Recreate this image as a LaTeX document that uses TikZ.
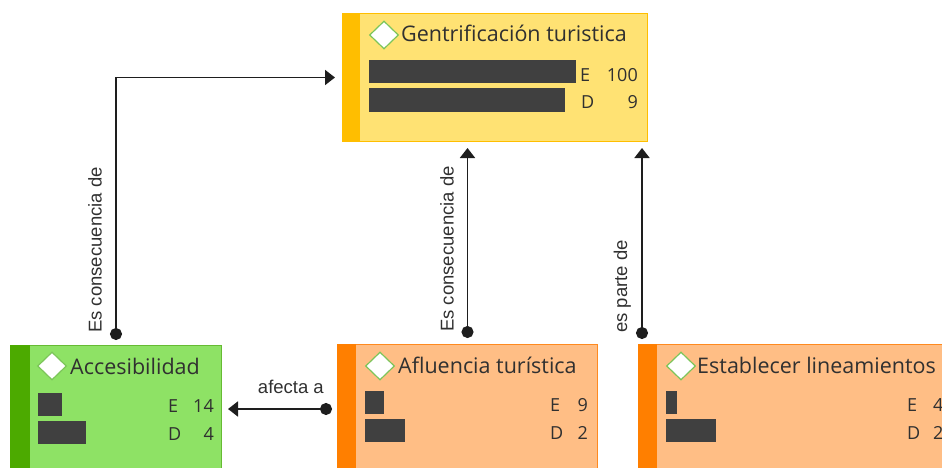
\documentclass[tikz,border=0pt]{standalone}
\usepackage{fontspec}
\setmainfont{Open Sans}
\newfontfamily\linkfont{Liberation Sans}
\usetikzlibrary{arrows.meta,shapes.geometric}

\definecolor{genfill}{HTML}{FFE273}
\definecolor{genstrip}{HTML}{FFBE00}
\definecolor{accfill}{HTML}{8EE265}
\definecolor{accstrip}{HTML}{4CAA00}
\definecolor{accedge}{HTML}{66BB33}
\definecolor{orgfill}{HTML}{FFBE85}
\definecolor{orgstrip}{HTML}{FF7F00}
\definecolor{orgedge}{HTML}{FF8A1F}
\definecolor{barcol}{HTML}{404040}
\definecolor{iconedge}{HTML}{7CC55A}
\definecolor{ink}{HTML}{303030}
\definecolor{linkink}{HTML}{1E1E1E}

\tikzset{
  concept/.style={draw=#1, line width=1pt, anchor=north west, inner sep=0pt},
  icon/.style={diamond, draw=iconedge, fill=white, line width=1.2pt, inner sep=0pt,
    minimum width=29pt, minimum height=28pt},
  title/.style={text=ink, inner sep=0pt, font=\fontsize{21.5}{25}\selectfont},
  count/.style={text=ink, inner sep=0pt, font=\fontsize{18}{22}\selectfont},
  bar/.style={fill=barcol},
  link/.style={draw=linkink, line width=1.8pt, {Circle[length=12pt]}-{Triangle[length=10pt,width=15pt]}},
  linklabel/.style={text=ink, inner sep=0pt, font=\linkfont\fontsize{18.5}{22}\selectfont},
}

\begin{document}
\begin{tikzpicture}[x=1pt, y=-1pt]
        \useasboundingbox (0,0) rectangle (942,468);
        \clip (0,0) rectangle (942,468);

        % Gentrificacion turistica
        \node [concept=genstrip, fill=genfill, minimum width=305pt, minimum height=128pt] (gen) at (342,13) {};
        \fill [genstrip] (gen.north west) rectangle ([xshift=18pt]gen.south west);
        \node [icon] (genIcon) at (384,35) {};
        \node [title, anchor=base west] (genTitle) at (401,42) {Gentrificación turistica};
        \fill [bar] (369,60) rectangle (576,83);
        \fill [bar] (369,88) rectangle (565,112);
        \node [count, anchor=base west] (genE) at (580,82) {E};
        \node [count, anchor=base east] (genEval) at (638,82) {100};
        \node [count, anchor=base west] (genD) at (581,109) {D};
        \node [count, anchor=base east] (genDval) at (638,109) {9};

        % Accesibilidad
        \node [concept=accedge, fill=accfill, minimum width=211pt, minimum height=140pt] (acc) at (10,345) {};
        \fill [accstrip] (acc.north west) rectangle ([xshift=20pt]acc.south west);
        \node [icon] (accIcon) at (52,366) {};
        \node [title, anchor=base west] (accTitle) at (70,374) {Accesibilidad};
        \fill [bar] (38,393) rectangle (62,416);
        \fill [bar] (38,421) rectangle (86,444);
        \node [count, anchor=base west] (accE) at (168,412) {E};
        \node [count, anchor=base east] (accEval) at (214,412) {14};
        \node [count, anchor=base west] (accD) at (168,440) {D};
        \node [count, anchor=base east] (accDval) at (214,440) {4};

        % Afluencia turistica
        \node [concept=orgedge, fill=orgfill, minimum width=260pt, minimum height=140pt] (afl) at (337,344) {};
        \fill [orgstrip] (afl.north west) rectangle ([xshift=19pt]afl.south west);
        \node [icon] (aflIcon) at (380,366) {};
        \node [title, anchor=base west] (aflTitle) at (398,373) {Afluencia turística};
        \fill [bar] (365,391) rectangle (384,414);
        \fill [bar] (365,419) rectangle (405,442);
        \node [count, anchor=base west] (aflE) at (550,411) {E};
        \node [count, anchor=base east] (aflEval) at (588,411) {9};
        \node [count, anchor=base west] (aflD) at (550,439) {D};
        \node [count, anchor=base east] (aflDval) at (588,439) {2};

        % Establecer lineamientos
        \node [concept=orgedge, fill=orgfill, minimum width=330pt, minimum height=140pt] (est) at (638,344) {};
        \fill [orgstrip] (est.north west) rectangle ([xshift=19pt]est.south west);
        \node [icon] (estIcon) at (681,366) {};
        \node [title, anchor=base west] (estTitle) at (697,373) {Establecer lineamientos};
        \fill [bar] (666,391) rectangle (677,414);
        \fill [bar] (666,419) rectangle (716,442);
        \node [count, anchor=base west] (estE) at (907,411) {E};
        \node [count, anchor=base west] (estEval) at (933,411) {4};
        \node [count, anchor=base west] (estD) at (907,439) {D};
        \node [count, anchor=base west] (estDval) at (933,439) {2};

        % links
        \coordinate (estPin) at (642,344);
        \coordinate (aflPin) at (337,409);
        \draw [link, shorten <=5pt, shorten >=7pt] (acc.north) |- (gen.west);
        \draw [link, shorten <=6pt, shorten >=6pt] (afl.north) -- (afl.north |- gen.south);
        \draw [link, shorten <=5pt, shorten >=6pt] (estPin) -- (estPin |- gen.south);
        \draw [link, shorten <=5pt, shorten >=6pt] (aflPin) -- (aflPin -| acc.east);
        \node [linklabel, rotate=90, anchor=base west] (accLink) at (101.5,333) {Es consecuencia de};
        \node [linklabel, rotate=90, anchor=base west] (aflLink) at (453.5,332) {Es consecuencia de};
        \node [linklabel, rotate=90, anchor=base west] (estLink) at (627,333) {es parte de};
        \node [linklabel, anchor=base east] (affLink) at (324,393) {afecta a};
\end{tikzpicture}
\end{document}
